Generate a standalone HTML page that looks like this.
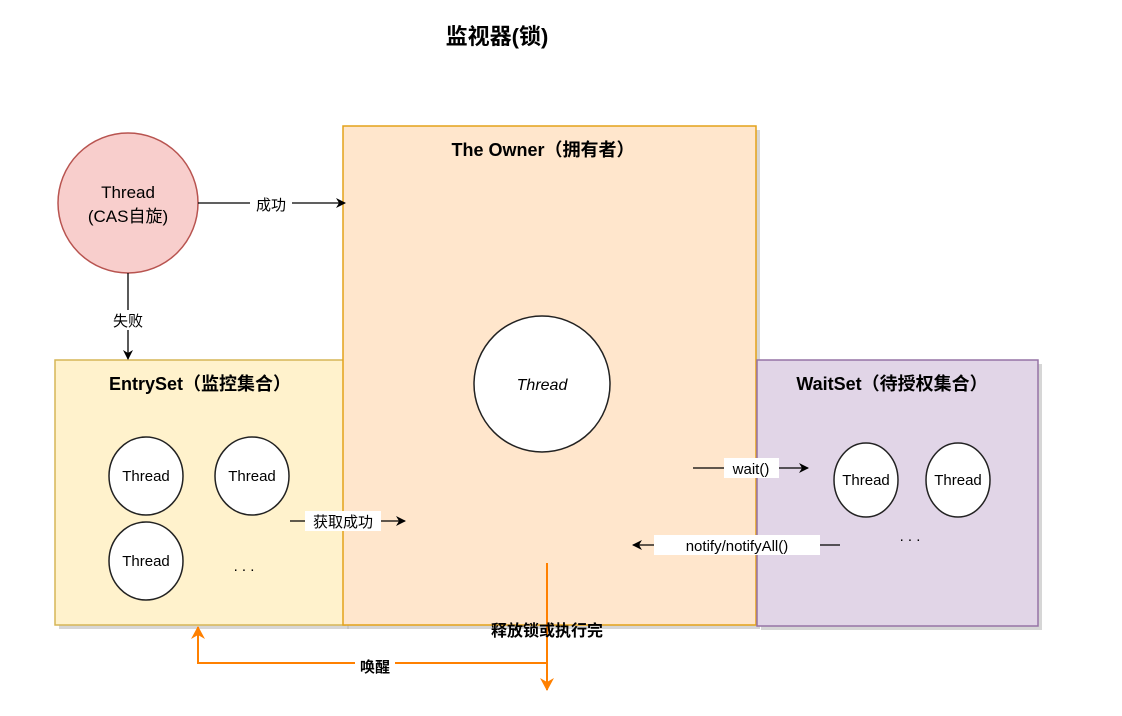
<!DOCTYPE html>
<html><head><meta charset="utf-8"><style>
html,body{margin:0;padding:0;background:#fff;width:1122px;height:716px;overflow:hidden}
text{font-family:"Liberation Sans","Noto Sans CJK SC",sans-serif}
</style></head><body>
<svg width="1122" height="716" viewBox="0 0 1122 716" xmlns="http://www.w3.org/2000/svg">
<defs>
<marker id="a" markerWidth="10" markerHeight="10" refX="9" refY="5" orient="auto" markerUnits="userSpaceOnUse"><path d="M0,0 L10,5 L0,10 L3,5z" fill="#000"/></marker>
<marker id="o" markerWidth="14" markerHeight="14" refX="12" refY="7" orient="auto" markerUnits="userSpaceOnUse"><path d="M0,0 L13,7 L0,14 L4,7z" fill="#ff8000"/></marker>
</defs>
<text x="497" y="44" font-size="22" font-weight="bold" text-anchor="middle">监视器(锁)</text>
<rect x="59" y="364" width="290" height="265" fill="#bbb" opacity="0.6"/>
<rect x="347" y="130" width="413" height="499" fill="#bbb" opacity="0.6"/>
<rect x="761" y="364" width="281" height="266" fill="#bbb" opacity="0.6"/>
<rect x="55" y="360" width="290" height="265" fill="#fff2cc" stroke="#d6b656" stroke-width="1.5"/>
<rect x="343" y="126" width="413" height="499" fill="#ffe6cc" stroke="#e3a21a" stroke-width="1.5"/>
<rect x="757" y="360" width="281" height="266" fill="#e1d5e7" stroke="#9673a6" stroke-width="1.5"/>
<circle cx="128" cy="203" r="70" fill="#f8cecc" stroke="#b85450" stroke-width="1.5"/>
<text x="128" y="198" font-size="17" text-anchor="middle">Thread</text>
<text x="128" y="222" font-size="17" text-anchor="middle">(CAS自旋)</text>
<line x1="198" y1="203" x2="345" y2="203" stroke="#000" stroke-width="1.3" marker-end="url(#a)"/>
<rect x="250" y="193" width="42" height="20" fill="#fff"/>
<text x="271" y="210" font-size="15" text-anchor="middle">成功</text>
<line x1="128" y1="273" x2="128" y2="359" stroke="#000" stroke-width="1.3" marker-end="url(#a)"/>
<rect x="107" y="310" width="42" height="20" fill="#fff"/>
<text x="128" y="326" font-size="15" text-anchor="middle">失败</text>
<text x="200" y="390" font-size="18" font-weight="bold" text-anchor="middle">EntrySet（监控集合）</text>
<text x="543" y="156" font-size="18" font-weight="bold" text-anchor="middle">The Owner（拥有者）</text>
<text x="892" y="390" font-size="18" font-weight="bold" text-anchor="middle">WaitSet（待授权集合）</text>
<circle cx="542" cy="384" r="68" fill="#fff" stroke="#222" stroke-width="1.5"/>
<text x="542" y="390" font-size="16" font-style="italic" text-anchor="middle">Thread</text>
<g fill="#fff" stroke="#222" stroke-width="1.5">
<ellipse cx="146" cy="476" rx="37" ry="39"/><ellipse cx="252" cy="476" rx="37" ry="39"/><ellipse cx="146" cy="561" rx="37" ry="39"/>
<ellipse cx="866" cy="480" rx="32" ry="37"/><ellipse cx="958" cy="480" rx="32" ry="37"/>
</g>
<g font-size="15" text-anchor="middle">
<text x="146" y="481">Thread</text><text x="252" y="481">Thread</text><text x="146" y="566">Thread</text>
<text x="866" y="485">Thread</text><text x="958" y="485">Thread</text>
<text x="244" y="571">. . .</text><text x="910" y="541">. . .</text>
</g>
<line x1="290" y1="521" x2="405" y2="521" stroke="#000" stroke-width="1.3" marker-end="url(#a)"/>
<rect x="305" y="511" width="76" height="20" fill="#fff"/>
<text x="343" y="527" font-size="15" text-anchor="middle">获取成功</text>
<line x1="693" y1="468" x2="808" y2="468" stroke="#000" stroke-width="1.3" marker-end="url(#a)"/>
<rect x="724" y="458" width="55" height="20" fill="#fff"/>
<text x="751" y="474" font-size="15" text-anchor="middle">wait()</text>
<line x1="840" y1="545" x2="633" y2="545" stroke="#000" stroke-width="1.3" marker-end="url(#a)"/>
<rect x="654" y="535" width="166" height="20" fill="#fff"/>
<text x="737" y="551" font-size="15" text-anchor="middle">notify/notifyAll()</text>
<line x1="547" y1="563" x2="547" y2="690" stroke="#ff8000" stroke-width="2" marker-end="url(#o)"/>
<polyline points="547,663 198,663 198,627" fill="none" stroke="#ff8000" stroke-width="2" marker-end="url(#o)"/>
<text x="547" y="636" font-size="16" font-weight="bold" text-anchor="middle">释放锁或执行完</text>
<rect x="355" y="656" width="40" height="20" fill="#fff"/>
<text x="375" y="672" font-size="15" font-weight="bold" text-anchor="middle">唤醒</text>
</svg>
</body></html>
